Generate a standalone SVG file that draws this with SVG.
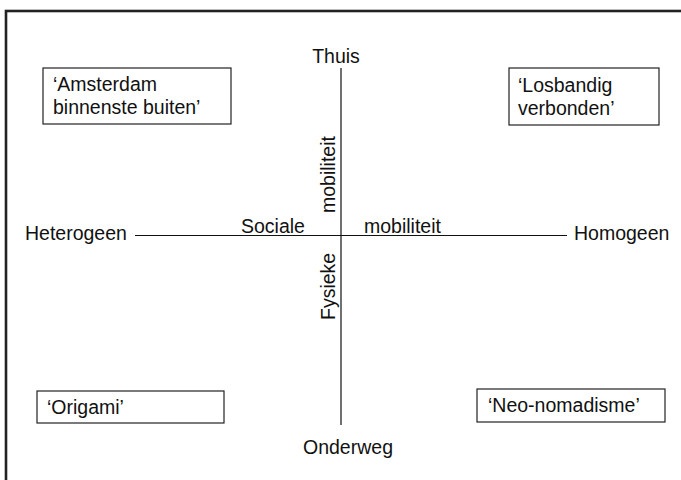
<svg xmlns="http://www.w3.org/2000/svg" width="681" height="480" viewBox="0 0 681 480">
  <style>
    text { font-family: "Liberation Sans", Arial, sans-serif; font-size: 19.5px; fill: #111; }
    .box { fill: #fff; stroke: #222; stroke-width: 1.2; }
    .axis { stroke: #111; stroke-width: 1.2; fill: none; }
  </style>
  <rect width="681" height="480" fill="#fff"/>
  <!-- slide frame: only the top and left edges fall inside the view -->
  <rect x="6" y="11" width="700" height="500" fill="none" stroke="#222" stroke-width="2.6"/>

  <g id="connectors">
    <line class="axis" x1="341" y1="68" x2="341" y2="425"/>
    <line class="axis" x1="135" y1="235.5" x2="567" y2="235.5"/>
  </g>

  <g id="thuis"><text x="336" y="63" text-anchor="middle">Thuis</text></g>
  <g id="onderweg"><text x="348" y="454" text-anchor="middle">Onderweg</text></g>
  <g id="heterogeen"><text x="25" y="240">Heterogeen</text></g>
  <g id="homogeen"><text x="574" y="240">Homogeen</text></g>
  <g id="sociale"><text x="241" y="232.5">Sociale</text></g>
  <g id="mobiliteit-h"><text x="364" y="232.5">mobiliteit</text></g>
  <g id="mobiliteit-v"><text transform="translate(335 213) rotate(-90)">mobiliteit</text></g>
  <g id="fysieke"><text transform="translate(335 320) rotate(-90)">Fysieke</text></g>

  <g id="amsterdam">
    <rect class="box" x="43" y="68" width="188" height="56"/>
    <text x="53" y="91">‘Amsterdam</text>
    <text x="53" y="114">binnenste buiten’</text>
  </g>
  <g id="losbandig">
    <rect class="box" x="509" y="68" width="150" height="57"/>
    <text x="518" y="92">‘Losbandig</text>
    <text x="518" y="115">verbonden’</text>
  </g>
  <g id="origami">
    <rect class="box" x="37" y="391" width="187" height="32"/>
    <text x="47" y="414">‘Origami’</text>
  </g>
  <g id="neo-nomadisme">
    <rect class="box" x="477" y="389" width="188" height="33"/>
    <text x="488" y="412">‘Neo-nomadisme’</text>
  </g>
</svg>
